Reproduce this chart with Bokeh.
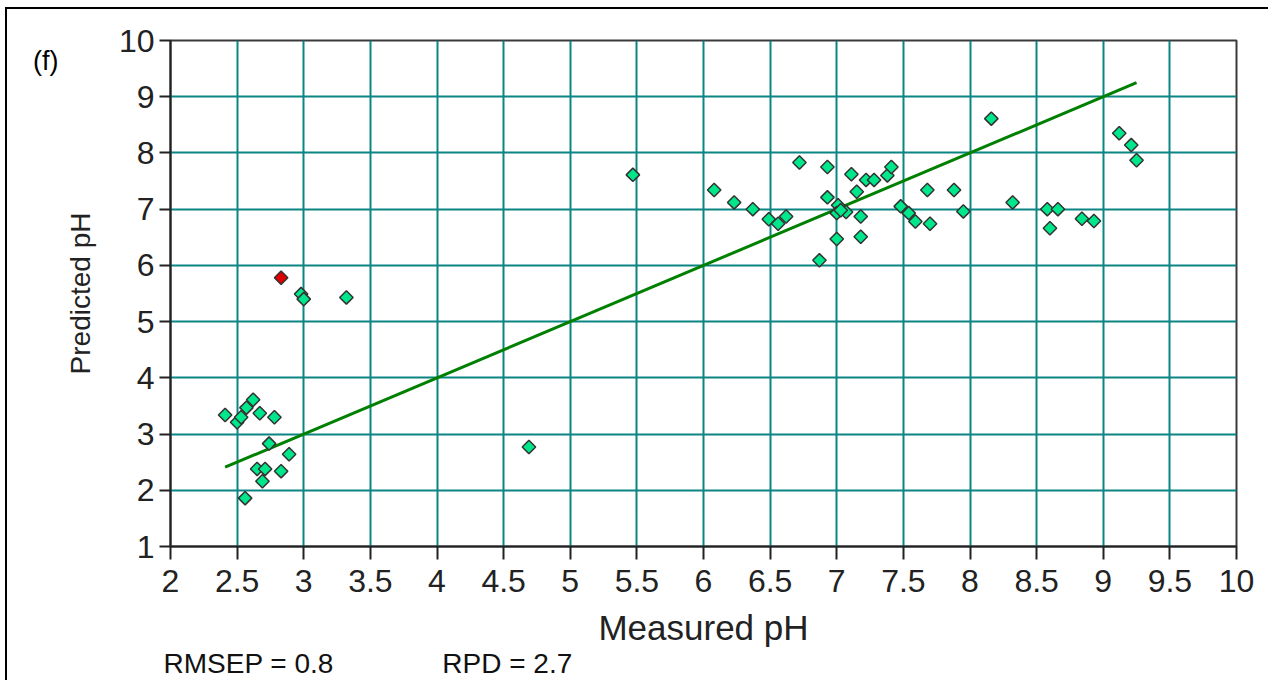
import numpy as np
from bokeh.plotting import figure
from bokeh.models import Range1d, FixedTicker, ColumnDataSource, LinearAxis, Title
from bokeh.embed import file_html
from bokeh.resources import INLINE

# ---- data ----
measured = [2.41, 2.50, 2.53, 2.57, 2.62, 2.67, 2.78, 2.74, 2.89, 2.65, 2.71, 2.83, 2.69, 2.56,
            2.98, 3.00, 3.32, 4.69, 5.47,
            6.08, 6.23, 6.37, 6.49, 6.56, 6.62,
            6.72, 6.93, 7.11, 7.22, 7.28, 7.38, 7.41, 7.15, 6.93, 7.01, 7.00, 7.07, 7.03,
            7.18, 7.00, 7.18, 6.87, 7.48, 7.54, 7.59, 7.70, 7.68, 7.88, 7.95,
            8.16, 8.32, 8.58, 8.66, 8.60, 8.84, 8.93, 9.12, 9.21, 9.25]
predicted = [3.34, 3.21, 3.30, 3.47, 3.61, 3.37, 3.30, 2.83, 2.64, 2.38, 2.38, 2.34, 2.16, 1.86,
             5.49, 5.40, 5.43, 2.77, 7.61,
             7.34, 7.12, 7.00, 6.82, 6.74, 6.87,
             7.83, 7.75, 7.62, 7.52, 7.52, 7.60, 7.75, 7.31, 7.21, 7.07, 6.93, 6.95, 6.98,
             6.87, 6.47, 6.51, 6.09, 7.05, 6.93, 6.78, 6.74, 7.34, 7.34, 6.96,
             8.61, 7.12, 7.00, 7.00, 6.66, 6.83, 6.79, 8.35, 8.14, 7.87]
outlier_measured = [2.83]
outlier_predicted = [5.78]

x_ticks = [2, 2.5, 3, 3.5, 4, 4.5, 5, 5.5, 6, 6.5, 7, 7.5, 8, 8.5, 9, 9.5, 10]
x_tick_labels = ["2", "2.5", "3", "3.5", "4", "4.5", "5", "5.5", "6", "6.5", "7",
                 "7.5", "8", "8.5", "9", "9.5", "10"]
y_ticks = [1, 2, 3, 4, 5, 6, 7, 8, 9, 10]
y_tick_labels = ["1", "2", "3", "4", "5", "6", "7", "8", "9", "10"]

panel_tag = "(f)"
rmsep = 0.8
rpd = 2.7

FONT = "Liberation Sans"

p = figure(width=1268, height=680, x_range=Range1d(2, 10), y_range=Range1d(1, 10),
           output_backend="svg", toolbar_location=None,
           min_border_left=170, min_border_right=32, min_border_top=40, min_border_bottom=134)
p.background_fill_color = "white"
p.border_fill_color = None
p.outline_line_color = "#3a3a3a"
p.outline_line_width = 2
# outer frame of the figure panel (left and top edges), drawn behind the transparent border
p.styles = {
    "background-color": "white",
    "background-image": "linear-gradient(#000,#000), linear-gradient(#000,#000)",
    "background-position": "5px 7px, 5px 7px",
    "background-size": "2px 100%, 100% 2px",
    "background-repeat": "no-repeat",
}

# grid
p.xgrid.ticker = FixedTicker(ticks=x_ticks)
p.ygrid.ticker = FixedTicker(ticks=y_ticks)
for g in (p.xgrid, p.ygrid):
    g.grid_line_color = "#0b8484"
    g.grid_line_width = 2
    g.grid_line_alpha = 1.0

# axes
p.xaxis.ticker = FixedTicker(ticks=x_ticks)
p.yaxis.ticker = FixedTicker(ticks=y_ticks)
p.xaxis.major_label_overrides = {t: l for t, l in zip(x_ticks, x_tick_labels)}
p.yaxis.major_label_overrides = {t: l for t, l in zip(y_ticks, y_tick_labels)}
for ax in (p.xaxis, p.yaxis):
    ax.axis_line_color = "#222222"
    ax.axis_line_width = 2
    ax.major_tick_line_color = "#222222"
    ax.major_tick_line_width = 2
    ax.major_tick_in = 0
    ax.minor_tick_line_color = None
    ax.major_label_text_font = FONT
    ax.major_label_text_font_size = "32px"
    ax.major_label_text_color = "#222222"
    ax.axis_label_text_font = FONT
    ax.axis_label_text_font_style = "normal"
    ax.axis_label_text_color = "#222222"
p.xaxis.major_tick_out = 13
p.yaxis.major_tick_out = 11
p.xaxis.major_label_standoff = 10
p.yaxis.major_label_standoff = 5
p.xaxis.axis_label = "Measured pH"
p.xaxis.axis_label_text_font_size = "35px"
p.xaxis.axis_label_standoff = 13
p.yaxis.axis_label = "Predicted pH"
p.yaxis.axis_label_text_font_size = "28px"
p.yaxis.axis_label_standoff = 20

# panel tag "(f)" as the single tick label of a bare extra left axis
tag_y = 9.63
tag_axis = LinearAxis(ticker=FixedTicker(ticks=[tag_y]),
                      major_label_overrides={tag_y: panel_tag},
                      axis_line_color=None, major_tick_line_color=None,
                      minor_tick_line_color=None, major_tick_out=0, major_tick_in=0,
                      major_label_standoff=3,
                      major_label_text_font=FONT, major_label_text_font_size="27px",
                      major_label_text_color="black")
p.add_layout(tag_axis, "left")

# statistics line below the axis
stats = f"RMSEP = {rmsep}" + "\u00a0" * 14 + f"RPD = {rpd}"
p.add_layout(Title(text=stats, align="left", offset=-7, standoff=-7,
                   text_font=FONT, text_font_size="28px", text_font_style="normal",
                   text_color="#111111"), "below")

# 1:1 line over measured range
lx = [min(measured), max(measured)]
p.line(lx, lx, line_color="#008000", line_width=3)

src = ColumnDataSource(dict(x=measured, y=predicted))
p.scatter("x", "y", source=src, marker="square", size=9.5, angle=np.pi / 4,
          fill_color="#00e68a", line_color="#333333", line_width=1.5)
p.scatter(outlier_measured, outlier_predicted, marker="square", size=9.5, angle=np.pi / 4,
          fill_color="#e00000", line_color="#333333", line_width=1.5)

open("out.html", "w").write(file_html(p, INLINE))
